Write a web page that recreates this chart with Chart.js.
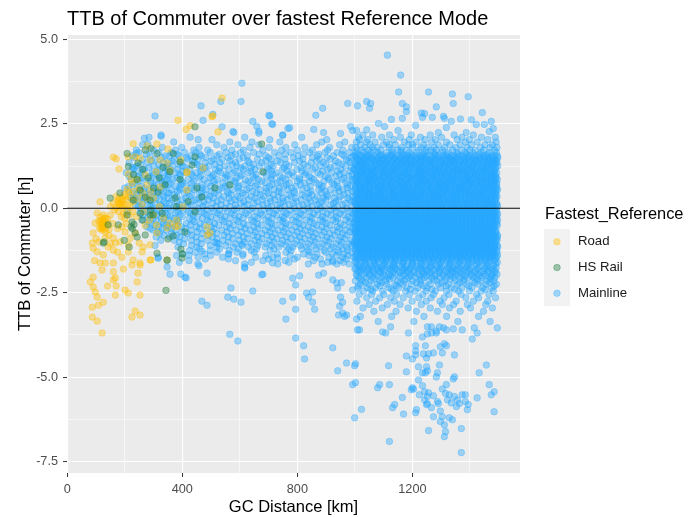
<!DOCTYPE html>
<html>
<head>
<meta charset="utf-8">
<title>TTB of Commuter over fastest Reference Mode</title>
<script src="https://cdn.jsdelivr.net/npm/chart.js@4.4.1/dist/chart.umd.min.js"></script>
<style>
  html, body { margin: 0; padding: 0; background: #ffffff; }
  #wrap { width: 699px; height: 517px; }
</style>
</head>
<body>
<div id="wrap"><canvas id="ttbChart" width="699" height="517"></canvas></div>
<script>
// Texts and axis values.
const chartTitle = 'TTB of Commuter over fastest Reference Mode';
const xAxisTitle = 'GC Distance [km]';
const yAxisTitle = 'TTB of Commuter [h]';
const legendTitle = 'Fastest_Reference';
const seriesNames = ['Road', 'HS Rail', 'Mainline'];
const xTickLabels = [0, 400, 800, 1200];
const xGridValues = [0, 200, 400, 600, 800, 1000, 1200, 1400];
const yTickLabels = [-7.5, -5, -2.5, 0, 2.5, 5];
const yGridValues = [-7.5, -6.25, -5, -3.75, -2.5, -1.25, 0, 1.25, 2.5, 3.75, 5];
const referenceLine = 0;

// Road points: [km, h]
const roadPoints = [
  [160,1.51],[170,1.46],[180,1.16],[212,1.02],[212,1.52],[236,1.52],[229,1.91],[277,1.85],[312,1.9],[350,1.75],
  [385,2.6],[427,2.44],[524,2.26],[506,2.73],[538,3.26],[413,2.33],[472,1.19],[416,1.08],[395,1.43],[347,1.34],
  [323,1.43],[288,1.43],[253,1.48],[357,1.13],[309,1.08],[271,0.99],[243,0.85],[222,0.85],[208,0.56],[277,0.69],
  [323,0.63],[416,0.54],[114,0.19],[160,0.15],[184,0.15],[201,0.33],[212,0.48],[225,0.74],[218,0.04],[177,0.25],
  [190,0.05],[170,0.02],[196,0.1],[150,0.05],[165,-0.05],[205,-0.08],[230,0.2],[245,0.3],[260,0.12],[300,0.3],
  [104,-0.14],[114,-0.26],[132,-0.29],[125,-0.44],[139,-0.5],[97,-0.44],[90,-0.73],[121,-0.65],[132,-0.88],[160,-0.88],
  [167,-1.03],[184,-0.99],[212,-1.08],[219,-0.88],[201,-0.7],[236,-0.73],[271,-0.5],[312,-0.73],[347,-0.58],[375,-0.55],
  [357,-0.44],[385,-0.53],[486,-0.79],[87,-1.03],[90,-1.18],[104,-1.29],[125,-1.38],[132,-1.62],[142,-1.15],[160,-1.24],
  [212,-1.29],[260,-1.29],[288,-1.53],[229,-1.53],[114,-1.62],[121,-1.83],[160,-1.62],[160,-1.88],[80,-2.18],[90,-2.04],
  [90,-2.33],[97,-2.48],[104,-2.63],[167,-2.57],[201,-2.42],[212,-2.51],[253,-2.57],[243,-2.18],[160,-2.12],[167,-2.06],
  [246,-1.92],[253,-1.68],[225,-1.68],[87,-2.93],[108,-2.87],[125,-2.78],[87,-3.22],[104,-3.34],[121,-3.69],[236,-3.04],
  [253,-3.16],[225,-3.22],[288,-1.08],[250,-1.03],[264,-1.15],[253,-1.62],[291,-1.53],[347,-1.53],
  [118,-0.35],[122,-0.42],[128,-0.5],[124,-0.58],[130,-0.62],[116,-0.48],[135,-0.4],[128,-0.3],[120,-0.55],[133,-0.7],
  [110,-0.38],[126,-0.2],[140,-0.32],[145,-0.62],[112,-0.6],[175,0.18],[182,0.3],[190,0.22],[198,0.4],[186,0.08],
  [170,0.35],[205,0.25],[210,0.1],[195,-0.15],[178,-0.1],[188,-0.25],[200,-0.3],[215,-0.2],[228,-0.1],[240,-0.25],
  [220,0.35],[232,0.5],[250,0.6],[262,0.45],[278,0.3],[290,0.5],[265,-0.1],[285,-0.35],[300,-0.2],[320,0.05],
  [335,-0.3],[310,-0.5],[150,-0.2],[158,-0.45],[145,-0.8],[175,-0.6],[190,-0.55],[205,-0.45],[175,-1.3],[190,-1.45],
  [150,-1.05],[195,-1.8],[140,-2.3],[110,-1.0],[100,-0.9],[95,-1.55],[170,-2.3],[503,2.71],[416,1.05],[381,-0.35],
  [402,0.04],[486,-0.55],[496,-0.73],[122,-0.36],[127,-0.47],[119,-0.6],[180,0.12],[193,0.28]
];

// HS Rail points: [km, h]
const hsRailPoints = [
  [149,0.3],[208,1.62],[212,1.24],[246,1.34],[271,1.72],[291,1.77],[312,1.62],[333,1.21],[368,1.62],[392,1.37],
  [434,1.28],[444,2.41],[444,1.52],[357,1.08],[281,0.9],[253,0.54],[271,0.33],[288,0.24],[229,0.24],[243,0.85],
  [316,0.48],[375,0.3],[392,0.85],[451,0.6],[468,0.33],[513,0.6],[565,0.69],[676,1.9],[680,1.08],[225,-0.41],
  [222,-0.55],[236,-0.73],[243,-0.85],[177,-0.49],[142,-0.49],[125,-1.03],[128,-1.0],[288,-0.2],[298,-0.2],[350,-0.91],
  [368,-0.82],[409,-0.7],[395,-1.21],[399,-1.47],[347,-1.53],[312,-1.33],[343,-2.43],[444,-0.11],[271,-0.79],[260,-0.35],
  [208,-0.2],[226,-0.6],[232,-0.48],[300,0.6],[320,0.9],[262,1.15],[340,0.7],[380,0.05],[420,0.2],[230,1.0],
  [255,-0.15],[290,-0.05],[183,0.45],[198,-0.95],[215,-1.15],[400,-1.35],[330,-0.15]
];

// Mainline isolated points: [km, h]
const mainlineSparse = [
  [1113,4.53],[1159,3.94],[607,3.7],[1152,3.44],[1256,3.44],[1339,3.38],[1394,3.3],[534,3.16],[604,3.16],[1041,3.16],
  [975,3.1],[1055,3.1],[1165,3.1],[1342,3.1],[465,3.03],[1009,3.03],[1179,3.0],[1283,3.0],[888,2.96],[1051,2.96],
  [1179,2.86],[1443,2.83],[506,2.78],[1231,2.82],[1242,2.8],[305,2.73],[701,2.75],[864,2.75],[704,2.73],[1308,2.72],
  [1269,2.69],[1235,2.69],[1165,2.66],[1127,2.63],[1311,2.66],[1367,2.64],[1405,2.62],[645,2.57],[1335,2.57],[1474,2.57],
  [472,2.6],[711,2.5],[714,2.48],[1082,2.51],[1422,2.48],[1450,2.48],[659,2.42],[985,2.42],[1211,2.45],[1103,2.42],
  [538,2.41],[767,2.36],[773,2.38],[1318,2.39],[1481,2.36],[1006,2.3],[666,2.28],[857,2.33],[992,2.3],[1041,2.32],
  [1150,2.3],[1387,2.24],[579,2.24],[891,2.24],[950,2.21],[1290,2.24],[1467,2.27],[576,2.27],[749,2.16],[666,2.22],
  [617,-1.77],[486,-1.92],[891,-1.92],[395,-1.95],[680,-1.95],[357,-1.95],[676,-1.97],[874,-1.98],[808,-2.0],[409,-2.04],
  [413,-2.06],[784,-2.07],[923,-2.12],[937,-2.21],[794,-2.27],[569,-2.36],[940,-2.36],[992,-2.42],[645,-2.45],[853,-2.48],
  [832,-2.51],[558,-2.63],[784,-2.63],[839,-2.63],[950,-2.63],[579,-2.69],[468,-2.75],[749,-2.75],[604,-2.78],[853,-2.78],
  [957,-2.78],[486,-2.87],[947,-2.9],[794,-2.99],[860,-2.99],[957,-3.1],[943,-3.16],[971,-3.16],[964,-3.2],[760,-3.28],
  [1006,-3.28],[1009,-3.6],[565,-3.73],[794,-3.84],[593,-3.93],[822,-4.07],[923,-4.13],[825,-4.46],[971,-4.58],[1002,-4.6],
  [940,-4.81],[953,-2.2],[714,-1.62],[732,-1.47],[923,-1.59],[458,-1.7],[347,-1.74],[316,-1.48],[423,-1.39],[468,-1.27],
  [520,-1.03],[562,-1.36],[607,-1.06],[617,-1.74],[305,-1.1],[325,-0.95],[200,0.6],[215,0.95],[235,1.2],[280,1.9],
  [326,2.13],[268,2.07],[240,1.62],[230,0.3],[210,-0.1],
  [1016,-3.6],[999,-4.66],[992,-5.22],[1002,-5.16],[999,-6.2],[1023,-5.95],[1117,-4.66],[1120,-5.22],[1086,-5.22],[1079,-5.31],
  [1120,-6.9],[1138,-5.81],[1131,-5.9],[1165,-5.6],[1169,-6.09],[1196,-5.37],[1204,-5.35],[1214,-5.96],[1211,-6.05],[1221,-5.08],
  [1235,-5.25],[1242,-5.43],[1252,-5.57],[1252,-5.78],[1256,-6.58],[1273,-6.17],[1290,-5.78],[1297,-6.0],[1297,-6.31],[1304,-6.17],
  [1311,-6.41],[1315,-6.61],[1311,-6.76],[1318,-5.22],[1304,-5.35],[1315,-5.48],[1328,-5.52],[1322,-5.67],[1335,-5.76],[1346,-5.57],
  [1356,-5.67],[1363,-5.78],[1353,-5.87],[1373,-5.52],[1384,-5.52],[1384,-5.72],[1394,-5.81],[1391,-5.96],[1328,-6.2],[1339,-6.26],
  [1370,-6.52],[1370,-7.23],[1346,-4.34],[1294,-4.64],[1287,-4.87],[1283,-4.99],[1249,-4.69],[1252,-4.81],[1245,-4.87],[1235,-4.87],
  [1249,-4.43],[1256,-4.31],[1238,-4.31],[1221,-4.69],[1211,-4.34],[1200,-4.46],[1179,-4.37],[1211,-4.07],[1245,-4.07],[1297,-4.1],
  [1311,-4.01],[1304,-4.28],[1211,-4.22],[1200,-5.31],[1256,-5.46],[1273,-5.55],[1287,-5.72],[1242,-5.67],[1249,-5.81],[1266,-5.9],
  [1224,-5.52],[1457,-4.64],[1432,-4.87],[1467,-5.22],[1474,-5.52],[1484,-5.43],[1425,-5.61],[1484,-6.02],[1179,-4.84],[1346,-4.99],
  [1342,-5.05],[1318,-4.07],[1308,-3.54],[1294,-3.51],[1283,-3.69],[1266,-3.69],[1252,-3.72],[1235,-3.81],[1266,-3.51],[1252,-3.51],
  [1273,-4.28],[1186,-3.69],[1107,-3.69],[1096,-3.66],[1124,-3.51],[1408,-3.87],[1415,-3.54],[1425,-3.69],[1495,-3.54],[1373,-3.6],
  [1342,-3.57],[1318,-3.6],[1283,-3.63]
];

// Mainline dense band, read row by row: [h, km, km, ...]
const mainlineRows = [
  [2.17, 326,1028,1062,1120,1196,1262,1345,1412,749],
  [2.10, 284,427,617,815,1012,1093,1158,1228,1301,1372,1440,1488],
  [2.03, 455,503,704,902,1045,1135,1189,1244,1280,1356,1398,1462,1016],
  [1.96, 370,565,642,739,885,965,1005,1070,1110,1172,1213,1267,1318,1384,1425,1491,1040],
  [1.88, 262,520,593,666,791,867,947,1020,1052,1099,1141,1186,1238,1290,1330,1366,1405,1452,1478,1120,1200],
  [1.80, 330,398,458,545,635,702,760,826,912,989,1003,1035,1078,1119,1163,1201,1252,1276,1312,1351,1390,1437,1470,1494,1060,1230],
  [1.72, 240,300,376,440,488,572,612,680,745,800,852,905,958,1008,1024,1046,1066,1090,1128,1149,1180,1222,1247,1283,1305,1340,1372,1399,1418,1448,1486,1160,1265],
  [1.65, 248,318,362,408,447,497,552,603,648,721,778,843,896,938,981,1003,1030,1055,1079,1110,1133,1160,1189,1216,1245,1272,1300,1325,1354,1382,1410,1440,1468,1492],
  [1.60, 275,383,461,529,584,667,758,821,874,955,1008,1046,1089,1127,1169,1197,1239,1278,1320,1358,1388,1433,1462],
  [1.55, 226,287,341,355,389,430,466,520,571,626,690,735,802,869,925,962,994,1001,1019,1025,1041,1050,1068,1084,1092,1108,1122,1130,1148,1162,1173,1184,1199,1209,1226,1237,1251,1262,1280,1291,1307,1317,1335,1346,1363,1373,1390,1401,1417,1429,1446,1458,1474,1486,1495],
  [1.50, 232,330,414,482,559,612,700,786,852,903,986,1005,1029,1037,1059,1075,1100,1114,1139,1155,1179,1192,1218,1230,1244,1270,1286,1311,1326,1340,1356,1381,1396,1412,1437,1452,1467,1481,1497],
  [1.45, 262,306,372,418,455,508,538,598,661,709,757,819,877,915,970,1007,1014,1033,1046,1058,1064,1081,1095,1103,1117,1136,1143,1157,1170,1181,1194,1213,1220,1234,1248,1259,1275,1288,1298,1312,1329,1338,1351,1368,1379,1393,1408,1420,1436,1449,1463,1477,1490],
  [1.40, 292,365,436,501,565,628,690,731,808,866,933,978,1010,1021,1039,1067,1078,1094,1113,1131,1150,1162,1176,1193,1210,1231,1243,1262,1279,1300,1318,1334,1344,1366,1383,1401,1419,1431,1451,1466,1479,1492],
  [1.35, 215,278,333,351,396,441,479,530,585,633,676,742,790,848,890,943,985,1002,1017,1028,1043,1052,1070,1086,1090,1106,1125,1129,1146,1165,1172,1187,1201,1207,1224,1240,1253,1266,1271,1293,1304,1320,1331,1347,1359,1374,1386,1398,1415,1427,1443,1455,1470,1484,1494],
  [1.30, 255,318,388,451,514,573,647,709,761,823,899,955,1000,1023,1035,1056,1073,1092,1102,1121,1142,1158,1180,1195,1212,1227,1247,1262,1276,1297,1311,1328,1350,1360,1379,1394,1413,1426,1446,1462,1474,1489],
  [1.25, 241,300,347,366,403,459,492,547,590,617,668,716,770,836,880,929,967,1005,1010,1024,1039,1060,1067,1077,1099,1112,1119,1138,1151,1155,1178,1190,1197,1217,1229,1236,1258,1264,1282,1296,1309,1315,1336,1344,1362,1377,1389,1404,1411,1432,1440,1461,1467,1481,1496],
  [1.20, 226,283,343,412,479,530,603,639,695,754,812,862,914,988,1012,1027,1044,1054,1079,1091,1110,1132,1144,1165,1173,1192,1209,1231,1240,1261,1279,1290,1312,1330,1339,1356,1373,1397,1407,1423,1445,1454,1473,1490],
  [1.15, 230,268,322,358,385,426,470,515,561,612,652,701,748,799,853,905,951,996,1000,1015,1031,1036,1049,1062,1082,1088,1104,1115,1131,1141,1160,1168,1182,1203,1211,1222,1244,1250,1269,1277,1289,1301,1319,1326,1349,1355,1368,1381,1395,1407,1424,1438,1447,1459,1476,1488],
  [1.10, 263,313,350,399,463,526,583,638,710,764,817,888,940,984,1009,1024,1040,1058,1070,1097,1106,1128,1137,1154,1176,1188,1215,1226,1238,1256,1280,1293,1306,1330,1345,1358,1375,1390,1411,1419,1436,1452,1467,1485],
  [1.05, 205,256,296,339,374,412,448,487,533,578,628,683,726,781,830,871,919,961,1004,1020,1026,1044,1057,1065,1074,1093,1109,1123,1127,1145,1158,1174,1185,1193,1206,1226,1233,1249,1261,1274,1285,1299,1310,1323,1340,1352,1366,1378,1385,1402,1418,1430,1444,1456,1470,1483,1493],
  [1.00, 233,301,350,391,432,509,552,605,657,715,770,826,880,947,990,1006,1018,1036,1053,1062,1085,1099,1114,1138,1152,1170,1180,1202,1221,1229,1245,1268,1279,1300,1317,1329,1338,1358,1377,1393,1408,1420,1442,1461,1474,1486],
  [0.95, 248,284,318,352,393,437,463,504,556,601,645,693,739,787,841,897,934,979,1008,1013,1029,1040,1054,1071,1080,1097,1102,1120,1134,1149,1163,1169,1188,1199,1215,1219,1238,1255,1266,1270,1292,1303,1316,1331,1343,1361,1371,1391,1400,1414,1426,1441,1452,1465,1479,1490],
  [0.90, 260,327,381,458,498,548,590,652,708,749,808,849,907,962,1003,1025,1038,1050,1067,1077,1101,1117,1126,1144,1159,1178,1192,1204,1223,1237,1251,1273,1284,1301,1320,1338,1352,1365,1385,1395,1416,1431,1444,1458,1476,1491],
  [0.85, 222,270,309,345,368,420,476,522,568,619,664,712,760,808,858,910,955,990,1001,1018,1034,1047,1059,1068,1085,1091,1113,1118,1137,1142,1156,1176,1183,1196,1208,1228,1242,1247,1263,1280,1287,1307,1313,1334,1346,1357,1375,1383,1397,1409,1421,1437,1449,1462,1473,1486,1495],
  [0.80, 248,290,338,397,440,510,582,630,676,739,800,842,892,938,993,1009,1021,1044,1052,1073,1090,1099,1119,1131,1154,1162,1178,1197,1217,1230,1241,1262,1276,1290,1310,1321,1339,1350,1372,1387,1401,1424,1436,1455,1470,1486],
  [0.75, 236,291,330,359,401,433,489,541,587,637,688,730,772,824,866,921,968,1006,1011,1027,1042,1056,1063,1078,1096,1107,1124,1132,1150,1159,1171,1186,1202,1213,1223,1235,1252,1260,1276,1295,1298,1321,1327,1339,1354,1369,1380,1393,1404,1419,1433,1445,1460,1469,1482,1492],
  [0.70, 227,315,353,395,468,514,560,612,660,712,761,811,876,928,975,1007,1017,1036,1047,1066,1079,1093,1111,1124,1141,1156,1175,1185,1204,1222,1236,1253,1264,1286,1298,1315,1329,1345,1364,1375,1395,1410,1422,1441,1457,1472,1493],
  [0.65, 214,259,302,340,377,414,452,499,549,596,655,703,753,795,845,889,941,985,1003,1016,1032,1037,1051,1069,1083,1089,1105,1116,1129,1147,1154,1165,1181,1191,1205,1218,1231,1246,1257,1271,1283,1292,1306,1318,1333,1348,1360,1372,1387,1399,1413,1428,1439,1454,1466,1478,1489],
  [0.60, 268,336,390,430,470,537,593,633,692,737,780,833,884,940,973,1002,1022,1031,1052,1063,1081,1098,1106,1128,1135,1160,1174,1188,1210,1220,1237,1259,1266,1288,1301,1313,1330,1352,1367,1379,1394,1414,1433,1448,1461,1479,1493],
  [0.55, 244,283,325,362,392,441,481,527,575,624,671,719,767,818,874,915,958,1000,1014,1022,1039,1048,1061,1075,1092,1101,1114,1126,1139,1152,1167,1179,1188,1200,1214,1227,1240,1250,1268,1279,1291,1302,1315,1328,1341,1353,1365,1378,1390,1406,1417,1431,1446,1457,1471,1484,1496],
  [0.50, 215,256,300,383,418,467,503,556,598,645,693,735,789,847,897,945,991,1009,1026,1035,1051,1072,1084,1094,1119,1133,1145,1163,1172,1194,1206,1228,1239,1256,1272,1288,1309,1317,1337,1346,1368,1386,1397,1418,1430,1443,1466,1481,1490],
  [0.45, 228,270,312,349,354,407,460,512,560,610,658,699,744,791,839,884,930,976,1007,1019,1030,1046,1055,1066,1080,1087,1103,1121,1131,1143,1158,1170,1184,1195,1209,1221,1233,1248,1261,1273,1284,1297,1311,1324,1336,1350,1362,1374,1388,1401,1411,1425,1440,1451,1463,1477,1491],
  [0.40, 240,287,332,372,433,484,526,570,620,671,717,770,816,851,903,962,1004,1015,1036,1050,1058,1080,1096,1108,1122,1137,1154,1167,1182,1199,1213,1229,1242,1259,1276,1291,1302,1320,1341,1352,1366,1384,1397,1413,1434,1442,1459,1478,1488],
  [0.35, 252,296,336,380,425,468,496,544,592,640,682,733,778,827,869,906,950,993,1002,1012,1025,1036,1052,1063,1074,1090,1098,1112,1127,1136,1149,1163,1174,1189,1203,1215,1226,1237,1253,1265,1278,1288,1300,1319,1330,1343,1356,1368,1381,1396,1408,1420,1434,1447,1458,1470,1485,1494],
  [0.30, 222,266,309,351,412,458,508,562,600,653,705,749,792,840,891,928,975,1009,1024,1033,1047,1061,1074,1087,1105,1120,1135,1146,1158,1177,1190,1201,1216,1233,1248,1261,1275,1293,1304,1323,1339,1351,1367,1382,1402,1417,1427,1442,1461,1473,1490],
  [0.25, 235,278,320,364,398,447,490,535,583,629,678,722,764,813,862,899,944,981,1005,1017,1029,1043,1050,1068,1081,1094,1104,1116,1133,1140,1155,1168,1180,1192,1207,1219,1230,1243,1258,1269,1281,1294,1308,1316,1333,1347,1359,1371,1385,1398,1410,1423,1438,1452,1464,1475,1489],
  [0.20, 250,293,336,382,435,475,521,570,614,660,707,751,797,846,885,933,990,1000,1014,1035,1048,1059,1076,1092,1107,1116,1133,1150,1165,1180,1191,1205,1220,1239,1254,1266,1280,1295,1313,1327,1341,1356,1370,1385,1395,1418,1433,1448,1460,1474,1486],
  [0.15, 261,304,343,356,411,457,505,553,603,648,694,741,786,834,876,925,967,1001,1010,1022,1038,1054,1060,1077,1088,1100,1110,1124,1138,1151,1161,1176,1186,1198,1212,1224,1236,1250,1262,1275,1286,1299,1310,1325,1339,1351,1363,1377,1392,1403,1415,1429,1443,1455,1468,1480,1493],
  [0.10, 237,279,323,389,431,481,534,585,626,680,731,772,820,869,916,958,1004,1018,1032,1044,1064,1073,1089,1103,1119,1129,1146,1160,1177,1187,1202,1218,1230,1244,1259,1276,1287,1300,1317,1332,1347,1360,1378,1391,1406,1420,1433,1451,1463,1479,1494],
  [0.05, 247,289,328,371,419,472,518,566,615,666,710,756,807,851,893,939,988,1006,1015,1027,1041,1048,1065,1072,1085,1097,1113,1120,1134,1146,1158,1171,1183,1195,1206,1218,1232,1245,1256,1267,1282,1292,1305,1321,1334,1345,1357,1370,1383,1397,1409,1422,1436,1449,1461,1474,1487,1496],
  [0.00, 256,299,338,350,394,455,502,548,590,643,699,741,790,837,881,928,972,1008,1020,1031,1046,1059,1075,1086,1100,1116,1131,1141,1156,1168,1184,1197,1211,1226,1240,1251,1265,1279,1294,1306,1320,1336,1349,1362,1375,1391,1404,1417,1432,1447,1460,1472,1485],
  [-0.05, 268,312,360,403,443,487,530,580,634,685,727,775,822,868,915,958,1003,1013,1024,1036,1051,1058,1070,1082,1093,1105,1118,1129,1142,1153,1164,1178,1190,1201,1213,1226,1239,1249,1261,1274,1287,1297,1312,1327,1338,1350,1364,1376,1389,1402,1414,1427,1441,1453,1466,1480,1492],
  [-0.10, 275,322,385,420,466,510,557,607,657,703,752,797,842,890,935,982,1001,1015,1029,1039,1057,1066,1080,1096,1110,1123,1135,1151,1164,1175,1189,1205,1216,1229,1245,1258,1270,1282,1298,1310,1324,1339,1352,1368,1380,1396,1409,1421,1438,1451,1463,1477,1490],
  [-0.15, 252,300,340,377,428,476,523,571,620,672,718,762,811,857,904,949,992,1000,1009,1021,1033,1046,1055,1067,1079,1092,1102,1115,1125,1138,1148,1160,1173,1185,1196,1209,1220,1233,1244,1256,1268,1281,1292,1304,1318,1331,1343,1355,1368,1381,1393,1406,1419,1432,1445,1458,1471,1484,1495],
  [-0.20, 262,311,348,392,438,486,533,582,630,677,727,773,820,871,917,961,1006,1019,1034,1044,1061,1071,1085,1098,1112,1127,1139,1155,1165,1179,1194,1207,1221,1235,1249,1262,1274,1286,1301,1315,1329,1342,1357,1369,1384,1398,1414,1426,1440,1455,1468,1482,1495],
  [-0.25, 281,326,358,400,452,499,548,597,652,699,748,796,845,887,934,977,1004,1016,1028,1040,1050,1062,1075,1087,1097,1109,1121,1134,1144,1157,1168,1181,1192,1204,1217,1229,1241,1252,1265,1276,1289,1301,1314,1325,1338,1349,1362,1373,1386,1398,1411,1424,1437,1450,1462,1476,1489],
  [-0.30, 298,337,373,425,470,518,566,611,663,712,753,806,851,897,940,985,1003,1013,1027,1042,1052,1068,1079,1091,1104,1117,1129,1145,1158,1170,1182,1197,1210,1222,1234,1246,1262,1273,1290,1303,1317,1331,1345,1359,1372,1385,1399,1412,1425,1440,1452,1466,1479,1492],
  [-0.35, 264,309,352,383,436,487,540,589,641,690,739,783,830,880,923,969,1002,1011,1023,1035,1047,1058,1071,1082,1094,1106,1117,1130,1141,1152,1166,1176,1188,1200,1212,1225,1236,1248,1260,1273,1284,1296,1309,1321,1334,1345,1358,1370,1382,1395,1407,1420,1433,1446,1459,1472,1485,1496],
  [-0.40, 282,327,387,441,495,545,595,648,700,749,795,844,889,934,980,1000,1014,1026,1038,1051,1064,1075,1088,1102,1114,1126,1139,1153,1166,1178,1190,1202,1215,1228,1240,1253,1265,1279,1292,1306,1318,1331,1344,1356,1371,1384,1397,1410,1424,1438,1451,1465,1477,1491],
  [-0.45, 290,334,366,414,462,512,563,613,661,710,760,806,858,901,950,995,1006,1018,1030,1041,1054,1065,1077,1089,1101,1112,1124,1137,1147,1159,1171,1183,1196,1207,1219,1231,1244,1255,1267,1279,1291,1304,1316,1328,1340,1353,1365,1377,1390,1402,1415,1428,1441,1454,1467,1480,1493],
  [-0.50, 305,346,381,428,476,527,578,626,675,723,772,819,867,913,962,1004,1017,1031,1043,1055,1069,1080,1092,1106,1118,1131,1142,1155,1169,1182,1193,1207,1219,1232,1243,1257,1269,1283,1294,1307,1320,1333,1346,1359,1373,1386,1400,1413,1426,1440,1453,1467,1482,1495],
  [-0.55, 276,318,352,397,449,501,554,603,649,699,747,794,838,886,939,983,1001,1012,1025,1037,1048,1060,1072,1085,1096,1108,1119,1131,1143,1156,1166,1178,1190,1203,1214,1227,1238,1250,1262,1274,1286,1298,1311,1323,1335,1347,1360,1372,1384,1397,1409,1422,1435,1448,1461,1474,1487],
  [-0.60, 288,330,362,410,460,511,566,618,662,712,758,809,852,900,947,990,1007,1020,1033,1045,1058,1070,1083,1095,1108,1121,1133,1146,1159,1171,1184,1196,1209,1222,1234,1246,1259,1272,1285,1297,1310,1322,1335,1348,1362,1374,1387,1401,1414,1428,1442,1456,1469,1483],
  [-0.65, 298,344,375,430,483,537,588,637,688,733,781,827,875,924,966,1004,1015,1027,1039,1052,1063,1075,1086,1098,1110,1123,1134,1146,1158,1170,1181,1193,1206,1217,1229,1241,1253,1266,1277,1289,1301,1313,1326,1338,1350,1362,1375,1387,1400,1413,1426,1439,1452,1465,1478,1491],
  [-0.70, 314,398,452,505,555,606,654,705,752,800,848,893,940,982,1001,1010,1022,1034,1046,1058,1069,1081,1094,1106,1118,1130,1142,1154,1166,1178,1190,1202,1214,1226,1238,1251,1263,1275,1287,1299,1311,1323,1336,1348,1360,1373,1385,1398,1410,1423,1437,1450,1463,1476,1489],
  [-0.75, 321,363,418,470,520,574,625,676,722,770,817,863,912,957,997,1002,1013,1024,1036,1049,1061,1073,1085,1097,1109,1120,1132,1144,1156,1168,1180,1192,1204,1216,1228,1240,1252,1264,1276,1288,1300,1312,1324,1337,1349,1361,1374,1386,1399,1412,1425,1438,1451,1464,1477,1490],
  [-0.80, 336,380,433,491,545,596,648,696,744,792,839,885,930,973,1005,1017,1029,1041,1053,1065,1077,1089,1101,1113,1125,1137,1149,1161,1173,1185,1197,1209,1221,1233,1245,1257,1269,1281,1293,1305,1318,1330,1342,1355,1367,1379,1392,1404,1417,1430,1443,1456,1470,1483,1496],
  [-0.85, 309,356,392,448,505,560,612,662,712,762,808,855,903,951,1007,1019,1031,1043,1055,1067,1079,1091,1103,1115,1127,1139,1151,1163,1175,1187,1199,1211,1223,1235,1247,1259,1271,1283,1295,1307,1319,1331,1343,1356,1368,1380,1393,1406,1419,1432,1445,1458,1471,1484,1495],
  [-0.90, 408,466,520,575,627,677,728,777,825,871,918,965,1002,1014,1026,1038,1050,1062,1074,1086,1098,1110,1122,1134,1146,1158,1170,1182,1194,1206,1218,1230,1242,1254,1266,1278,1290,1302,1314,1327,1339,1351,1364,1376,1389,1401,1414,1427,1440,1453,1466,1479,1492],
  [-0.95, 372,432,488,541,598,652,703,749,798,846,896,944,988,1003,1016,1028,1040,1053,1064,1076,1089,1101,1112,1124,1137,1148,1160,1173,1184,1196,1209,1220,1232,1245,1256,1268,1281,1292,1304,1317,1328,1340,1353,1365,1377,1390,1403,1416,1429,1442,1455,1468,1481,1494],
  [-1.00, 389,451,513,560,615,667,718,766,814,862,910,955,996,1006,1019,1030,1043,1054,1067,1078,1091,1103,1115,1127,1140,1152,1164,1176,1189,1201,1213,1225,1238,1250,1262,1274,1286,1299,1311,1323,1336,1348,1361,1373,1386,1398,1411,1424,1437,1450,1463,1476,1489],
  [-1.05, 404,466,526,585,640,693,743,790,838,887,935,979,1000,1011,1024,1035,1047,1060,1071,1083,1096,1107,1119,1132,1143,1155,1168,1179,1191,1204,1215,1227,1240,1251,1263,1276,1287,1299,1312,1323,1335,1348,1360,1372,1385,1397,1410,1423,1436,1449,1462,1475,1488],
  [-1.10, 432,497,551,608,662,711,760,810,857,905,951,990,1003,1015,1027,1039,1051,1063,1076,1088,1100,1112,1124,1137,1149,1161,1173,1185,1198,1210,1222,1234,1247,1259,1271,1283,1296,1308,1320,1333,1345,1357,1370,1382,1395,1407,1420,1433,1446,1459,1472,1485,1495],
  [-1.15, 385,450,520,577,630,688,735,784,832,880,926,972,1005,1018,1029,1042,1055,1066,1078,1091,1102,1114,1127,1138,1150,1163,1174,1186,1199,1210,1222,1235,1246,1258,1271,1282,1294,1307,1318,1330,1343,1355,1367,1380,1392,1405,1418,1431,1444,1457,1470,1483,1496],
  [-1.20, 460,530,595,658,718,770,815,866,917,958,1000,1012,1024,1037,1049,1061,1073,1086,1098,1110,1122,1135,1147,1159,1172,1184,1196,1209,1221,1233,1246,1258,1270,1283,1295,1307,1320,1332,1345,1357,1370,1382,1395,1408,1421,1434,1447,1460,1473,1486],
  [-1.25, 425,497,563,640,705,778,838,893,941,975,1002,1014,1027,1039,1050,1063,1076,1088,1099,1113,1125,1136,1150,1163,1175,1186,1200,1213,1225,1236,1250,1263,1275,1286,1300,1313,1325,1336,1350,1363,1376,1389,1402,1415,1428,1441,1454,1467,1480,1493],
  [-1.30, 445,520,590,650,760,845,898,943,987,1009,1022,1036,1049,1063,1076,1090,1103,1117,1130,1144,1157,1171,1184,1198,1211,1225,1238,1252,1265,1279,1292,1306,1319,1333,1346,1360,1373,1387,1400,1414,1427,1441,1454,1468,1481,1494],
  [-1.35, 402,478,560,611,730,822,868,921,962,1006,1020,1031,1045,1059,1070,1084,1098,1109,1123,1137,1148,1162,1176,1187,1201,1215,1226,1240,1254,1265,1279,1293,1304,1318,1332,1343,1357,1371,1382,1396,1410,1421,1435,1449,1460,1474,1487],
  [-1.40, 380,498,610,690,775,840,935,975,1004,1019,1033,1048,1062,1077,1091,1106,1120,1135,1149,1164,1178,1193,1207,1222,1236,1251,1265,1280,1294,1309,1323,1338,1352,1367,1381,1396,1410,1425,1439,1454,1468,1483,1496],
  [-1.45, 316,455,540,655,714,800,862,910,957,995,1001,1017,1027,1046,1055,1073,1083,1101,1112,1129,1140,1157,1168,1185,1196,1213,1224,1241,1250,1269,1279,1298,1307,1325,1336,1353,1363,1381,1392,1409,1420,1437,1448,1466,1476,1492],
  [-1.50, 480,560,700,790,880,970,1010,1027,1042,1060,1075,1093,1108,1126,1141,1159,1174,1192,1207,1225,1240,1258,1273,1291,1306,1324,1339,1357,1372,1390,1405,1423,1438,1456,1471,1489],
  [-1.55, 347,423,585,680,758,856,923,948,1004,1021,1033,1050,1066,1078,1096,1108,1125,1141,1152,1170,1183,1200,1213,1230,1243,1258,1275,1288,1303,1321,1333,1350,1366,1378,1395,1410,1423,1441,1453,1470,1485],
  [-1.60, 390,640,770,905,960,1002,1035,1068,1101,1134,1167,1200,1233,1266,1299,1332,1365,1398,1431,1464,1495],
  [-1.65, 454,617,732,838,886,937,980,1008,1039,1071,1103,1135,1166,1199,1230,1263,1294,1327,1358,1391,1422,1457,1490],
  [-1.70, 1014,1033,1054,1072,1095,1116,1136,1155,1178,1199,1220,1242,1266,1284,1309,1330,1350,1372,1393,1417,1440,1461,1482],
  [-1.75, 1003,1018,1026,1047,1059,1081,1090,1112,1129,1140,1163,1177,1195,1214,1228,1249,1262,1287,1301,1322,1340,1361,1383,1404,1431,1452,1470,1491],
  [-1.80, 1000,1027,1050,1078,1094,1119,1140,1172,1191,1222,1244,1274,1296,1327,1348,1371,1395,1425,1458,1479],
  [-1.85, 1010,1022,1045,1063,1087,1101,1124,1148,1165,1183,1206,1233,1251,1270,1294,1316,1338,1355,1379,1399,1420,1446,1465,1488],
  [-1.90, 1018,1040,1066,1089,1132,1156,1181,1205,1236,1262,1293,1320,1342,1366,1391,1415,1437,1462,1486],
  [-1.95, 1005,1031,1052,1070,1098,1119,1142,1170,1192,1218,1239,1259,1283,1308,1331,1351,1374,1403,1426,1449,1477,1494],
  [-2.00, 1008,1049,1078,1103,1124,1166,1195,1225,1250,1278,1306,1331,1358,1383,1405,1430,1455,1476],
  [-2.05, 1014,1039,1061,1092,1115,1133,1158,1187,1211,1240,1267,1296,1319,1344,1368,1392,1415,1441,1468,1487],
  [-2.10, 1021,1068,1120,1179,1232,1275,1333,1380,1426,1473],
  [-2.15, 1002,1027,1056,1085,1107,1148,1173,1201,1226,1257,1285,1312,1348,1377,1410,1437,1460,1483],
  [-2.20, 1036,1093,1159,1214,1303,1365,1417,1468],
  [-2.25, 1020,1048,1078,1110,1139,1166,1197,1229,1262,1290,1325,1357,1389,1428,1455,1492],
  [-2.30, 1012,1087,1144,1240,1317,1396,1484],
  [-2.35, 1009,1043,1071,1118,1152,1181,1219,1251,1298,1336,1372,1407,1445,1476],
  [-2.40, 1055,1127,1193,1268,1347,1453],
  [-2.45, 1030,1062,1096,1133,1176,1210,1247,1280,1318,1361,1398,1439,1481],
  [-2.55, 1015,1058,1101,1145,1190,1236,1273,1327,1369,1423,1466],
  [-2.65, 1041,1086,1124,1168,1222,1265,1310,1386,1430,1489],
  [-2.75, 1007,1072,1137,1199,1248,1296,1352,1412,1462],
  [-2.85, 1050,1113,1157,1231,1304,1343,1391,1455],
  [-2.95, 1028,1095,1185,1262,1329,1402,1478],
  [-3.05, 1066,1143,1214,1287,1366,1447],
  [-3.2, 1019,1128,1240,1319,1430],
  [-3.35, 1081,1205,1358,1470]
];

const FONT = '"Liberation Sans", Arial, sans-serif';
const seriesColors = {
  'Road': 'rgba(255, 190, 0, 0.4)',
  'HS Rail': 'rgba(27, 122, 61, 0.4)',
  'Mainline': 'rgba(38, 168, 255, 0.4)'
};

// Converts [km, h] pairs into Chart.js points.
function toXY(pairs) {
    return pairs.map(p => ({ x: p[0], y: p[1] }));
}

const mainlineData = toXY(mainlineSparse).concat(
    mainlineRows.flatMap(row => row.slice(1).map(km => ({ x: km, y: row[0] })))
);

const isMajorX = v => xTickLabels.includes(v);
const isMajorY = v => yTickLabels.includes(v);

// Grey panel, the zero line and the ggplot-like texts and legend.
const ggDecor = {
    id: 'ggDecor',
    beforeDraw(chart) {
        const { ctx, chartArea: a } = chart;
        ctx.save();
        ctx.fillStyle = '#ebebeb';
        ctx.fillRect(a.left, a.top, a.right - a.left, a.bottom - a.top);
        ctx.restore();
    },
    afterDatasetsDraw(chart) {
        const { ctx, chartArea: a, scales } = chart;
        const y = scales.y.getPixelForValue(referenceLine);
        ctx.save();
        ctx.strokeStyle = '#000000';
        ctx.lineWidth = 1.1;
        ctx.beginPath();
        ctx.moveTo(a.left, y);
        ctx.lineTo(a.right, y);
        ctx.stroke();
        ctx.restore();
    },
    afterDraw(chart) {
        const { ctx, chartArea: a } = chart;
        ctx.save();
        ctx.fillStyle = '#000000';
        ctx.font = `20px ${FONT}`;
        ctx.textAlign = 'left';
        ctx.textBaseline = 'alphabetic';
        ctx.fillText(chartTitle, a.left, 25);

        ctx.font = `16.5px ${FONT}`;
        ctx.textAlign = 'center';
        ctx.textBaseline = 'middle';
        ctx.fillText(xAxisTitle, (a.left + a.right) / 2, 507);

        ctx.save();
        ctx.translate(25, (a.top + a.bottom) / 2);
        ctx.rotate(-Math.PI / 2);
        ctx.fillText(yAxisTitle, 0, 0);
        ctx.restore();

        // legend
        const keyLeft = 544, keyTop = 229, keySize = 25.7;
        ctx.textAlign = 'left';
        ctx.textBaseline = 'alphabetic';
        ctx.font = `16.4px ${FONT}`;
        ctx.fillText(legendTitle, 545, 219);
        ctx.fillStyle = '#f2f2f2';
        ctx.fillRect(keyLeft, keyTop, 26, keySize * seriesNames.length);
        seriesNames.forEach((name, i) => {
            const cy = keyTop + keySize * i + keySize / 2;
            ctx.fillStyle = seriesColors[name];
            ctx.strokeStyle = seriesColors[name];
            ctx.lineWidth = 0.8;
            ctx.beginPath();
            ctx.arc(keyLeft + 13, cy, 3.3, 0, Math.PI * 2);
            ctx.fill();
            ctx.stroke();
            ctx.fillStyle = '#1a1a1a';
            ctx.font = `13.2px ${FONT}`;
            ctx.textBaseline = 'middle';
            ctx.fillText(name, 578, cy);
        });
        ctx.restore();
    }
};

function makeDataset(name, data, order) {
    return {
        label: name,
        data: data,
        backgroundColor: seriesColors[name],
        borderColor: seriesColors[name],
        borderWidth: 0.8,
        pointRadius: 3.3,
        order: order
    };
}

const ctx = document.getElementById('ttbChart').getContext('2d');
const ttbChart = new Chart(ctx, {
    type: 'scatter',
    data: {
        datasets: [
            makeDataset('Road', toXY(roadPoints), 2),
            makeDataset('HS Rail', toXY(hsRailPoints), 1),
            makeDataset('Mainline', mainlineData, 3)
        ]
    },
    options: {
        responsive: false,
        animation: false,
        events: [],
        layout: { padding: { left: 0, right: 179, top: 35, bottom: 0 } },
        plugins: {
            legend: { display: false },
            title: { display: false },
            tooltip: { enabled: false }
        },
        scales: {
            x: {
                type: 'linear',
                min: -1,
                max: 1574,
                afterBuildTicks: scale => { scale.ticks = xGridValues.map(v => ({ value: v })); },
                afterFit: scale => { scale.height = 44; },
                border: { display: false },
                grid: {
                    color: '#ffffff',
                    lineWidth: c => (c.tick && isMajorX(c.tick.value)) ? 1.1 : 0.55,
                    tickLength: 4,
                    tickWidth: 1,
                    tickColor: c => (c.tick && isMajorX(c.tick.value)) ? '#333333' : 'rgba(0,0,0,0)'
                },
                ticks: {
                    color: '#4d4d4d',
                    font: { family: FONT, size: 12.7 },
                    padding: 5,
                    autoSkip: false,
                    maxRotation: 0,
                    callback: v => isMajorX(v) ? String(v) : ''
                }
            },
            y: {
                type: 'linear',
                min: -7.834,
                max: 5.127,
                afterBuildTicks: scale => { scale.ticks = yGridValues.map(v => ({ value: v })); },
                afterFit: scale => { scale.width = 67; },
                border: { display: false },
                grid: {
                    color: '#ffffff',
                    lineWidth: c => (c.tick && isMajorY(c.tick.value)) ? 1.1 : 0.55,
                    tickLength: 4,
                    tickWidth: 1,
                    tickColor: c => (c.tick && isMajorY(c.tick.value)) ? '#333333' : 'rgba(0,0,0,0)'
                },
                ticks: {
                    color: '#4d4d4d',
                    font: { family: FONT, size: 12.7 },
                    padding: 5,
                    autoSkip: false,
                    callback: v => isMajorY(v) ? v.toFixed(1) : ''
                }
            }
        }
    },
    plugins: [ggDecor]
});
</script>
</body>
</html>
